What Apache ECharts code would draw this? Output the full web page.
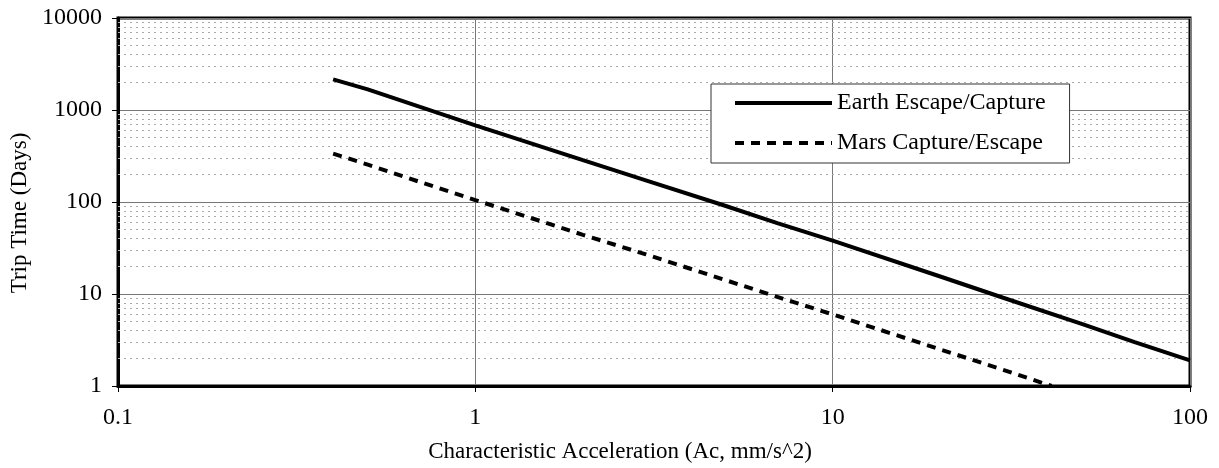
<!DOCTYPE html>
<html>
<head>
<meta charset="utf-8">
<script src="https://cdn.jsdelivr.net/npm/echarts@6/dist/echarts.min.js"></script>
<style>
html,body{margin:0;padding:0;background:#fff;}
#c{width:1219px;height:468px;}
</style>
</head>
<body>
<div id="c"></div>
<script>
// Data
var earthX = [0.4, 0.5, 0.7, 1, 2, 3, 5, 7, 10, 20, 30, 50, 70, 100];
var earthY = [2150, 1675, 1080, 680, 285, 172, 91, 59, 38, 15.5, 9.1, 4.7, 3.0, 1.9];
var marsX = [0.4, 0.5, 0.7, 1, 2, 3, 5, 7, 10, 20, 30, 41];
var marsY = [336, 255, 165, 105, 44, 27, 14.2, 9.3, 6.0, 2.5, 1.5, 1.0];
var xTickLabels = ['0.1', '1', '10', '100'];
var yTickLabels = ['1', '10', '100', '1000', '10000'];
var minorGridY = [2,3,4,5,6,7,8,9, 20,30,40,50,60,70,80,90, 200,300,400,500,600,700,800,900, 2000,3000,4000,5000,6000,7000,8000,9000];
var seriesNames = ['Earth Escape/Capture', 'Mars Capture/Escape'];

var serif = "'Liberation Serif','Times New Roman',serif";

function pairs(xs, ys) { return xs.map(function (x, i) { return [x, ys[i]]; }); }
function fmt(labels) {
  return function (v) {
    for (var i = 0; i < labels.length; i++) {
      if (Math.abs(Math.log10(v) - Math.log10(parseFloat(labels[i]))) < 1e-6) return labels[i];
    }
    return '';
  };
}

var chart = echarts.init(document.getElementById('c'));
chart.setOption({
  animation: false,
  backgroundColor: '#fff',
  grid: { left: 118, right: 29, top: 18, bottom: 79, show: true, borderColor: '#000', borderWidth: 3, backgroundColor: 'transparent' },
  legend: {
    orient: 'vertical',
    left: 711, top: 84,
    padding: [7, 24, 8, 22],
    itemWidth: 97, itemHeight: 14, itemGap: 16,
    backgroundColor: '#fff', borderColor: '#333', borderWidth: 1,
    itemStyle: { opacity: 0 },
    lineStyle: { width: 4 },
    textStyle: { fontFamily: serif, fontSize: 24, color: '#000' },
    data: seriesNames
  },
  xAxis: {
    type: 'log', logBase: 10, min: 0.1, max: 100,
    name: 'Characteristic Acceleration (Ac, mm/s^2)',
    nameLocation: 'middle', nameGap: 54,
    nameTextStyle: { fontFamily: serif, fontSize: 23, color: '#000', padding: [0, 68, 0, 0] },
    axisLine: { show: true, lineStyle: { color: '#000', width: 3 } },
    axisTick: { show: true, length: 6, lineStyle: { color: '#000', width: 1 } },
    axisLabel: { fontFamily: serif, fontSize: 24, color: '#000', margin: 20, formatter: fmt(xTickLabels) },
    splitLine: { show: true, lineStyle: { color: '#777', width: 1 } },
    minorTick: { show: false }, minorSplitLine: { show: false }
  },
  yAxis: {
    type: 'log', logBase: 10, min: 1, max: 10000,
    name: 'Trip Time (Days)',
    nameLocation: 'middle', nameGap: 86,
    nameTextStyle: { fontFamily: serif, fontSize: 23, color: '#000', padding: [0, 22, 0, 0] },
    axisLine: { show: true, lineStyle: { color: '#000', width: 3 } },
    axisTick: { show: true, length: 6, lineStyle: { color: '#000', width: 1 } },
    axisLabel: { fontFamily: serif, fontSize: 24, color: '#000', margin: 16, formatter: fmt(yTickLabels) },
    splitLine: { show: true, lineStyle: { color: '#777', width: 1 } }
  },
  series: [
    {
      name: seriesNames[0], type: 'line', showSymbol: false, symbol: 'none',
      data: pairs(earthX, earthY),
      lineStyle: { color: '#000', width: 4 },
      itemStyle: { color: '#000' },
      z: 3,
      markLine: {
        silent: true, symbol: 'none', animation: false,
        label: { show: false },
        lineStyle: { color: '#aaa', width: 1, type: [2, 4] },
        data: minorGridY.map(function (v) { return { yAxis: v }; }),
        z: 1
      }
    },
    {
      name: seriesNames[1], type: 'line', showSymbol: false, symbol: 'none',
      data: pairs(marsX, marsY),
      lineStyle: { color: '#000', width: 4, type: [9, 7] },
      itemStyle: { color: '#000' },
      z: 3
    }
  ]
});
</script>
</body>
</html>
